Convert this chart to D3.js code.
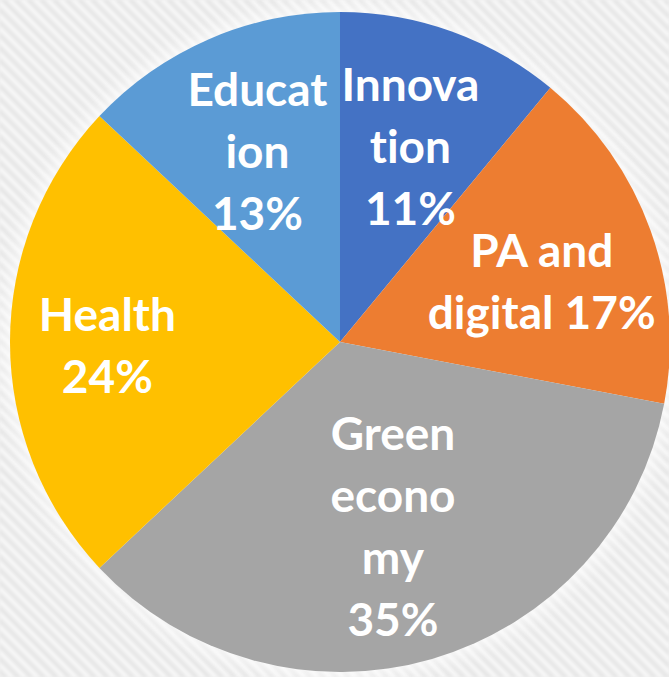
<!DOCTYPE html>
<html>
<head>
<meta charset="utf-8">
<script src="https://cdn.jsdelivr.net/npm/d3@7"></script>
<style>
  html, body { margin: 0; padding: 0; background: #efefef; }
  svg { display: block; }
</style>
</head>
<body>
<div id="chart"></div>
<script>
// data
var categories = ["Innovation", "PA and digital", "Green economy", "Health", "Education"];
var shares = [11, 17, 35, 24, 13];
// how the label text wraps inside each slice ({p} = the percentage)
var labelLines = [
  ["Innova", "tion", "{p}"],
  ["PA and", "digital {p}"],
  ["Green", "econo", "my", "{p}"],
  ["Health", "{p}"],
  ["Educat", "ion", "{p}"]
];
var colors = ["#4472C4", "#ED7D31", "#A5A5A5", "#FFC000", "#5B9BD5"];

function chart() {
  var w = 669;
  var h = 677;
  var cx = 340, cy = 342, r = 330;

  // label distance from centre (fraction of radius) and small nudges
  var labelRadius = [0.63, 0.64, 0.575, 0.705, 0.63];
  var nudge = [[0, 1], [3, 12], [0, 3], [0, 4], [0, 1]];
  var lineH = 62;

  var svg = d3.select("#chart")
              .append("svg")
              .attr("width", w)
              .attr("height", h);

  var defs = svg.append("defs");

  // diagonal striped background
  var pat = defs.append("pattern")
                .attr("id", "stripes")
                .attr("patternUnits", "userSpaceOnUse")
                .attr("width", 9)
                .attr("height", 9)
                .attr("patternTransform", "rotate(-45)");
  pat.append("rect").attr("width", 9).attr("height", 9).attr("fill", "#f7f7f7");
  pat.append("rect").attr("width", 4.5).attr("height", 9).attr("fill", "#e6e6e6");

  var soft = defs.append("filter").attr("id", "soft")
                 .attr("x", "-5%").attr("y", "-5%").attr("width", "110%").attr("height", "110%");
  soft.append("feGaussianBlur").attr("stdDeviation", 1.5);

  var glow = defs.append("filter").attr("id", "glow")
                 .attr("x", "-20%").attr("y", "-20%").attr("width", "140%").attr("height", "140%");
  glow.append("feGaussianBlur").attr("stdDeviation", 9);

  svg.append("rect")
     .attr("width", w)
     .attr("height", h)
     .attr("fill", "url(#stripes)")
     .attr("filter", "url(#soft)");

  // white halo round the pie
  svg.append("circle")
     .attr("cx", cx)
     .attr("cy", cy)
     .attr("r", r + 4)
     .attr("fill", "#ffffff")
     .attr("opacity", 0.75)
     .attr("filter", "url(#glow)");

  var pie = d3.pie()
              .sort(null)
              .value(function(d) { return d; });

  var arc = d3.arc()
              .innerRadius(0)
              .outerRadius(r);

  var arcs = pie(shares);

  var g = svg.append("g")
             .attr("transform", "translate(" + cx + "," + cy + ")");

  g.selectAll("path")
   .data(arcs)
   .enter()
   .append("path")
   .attr("d", arc)
   .attr("fill", function(d, i) { return colors[i]; });

  // labels
  var labels = g.selectAll("text.lbl")
                .data(arcs)
                .enter()
                .append("text")
                .attr("class", "lbl")
                .attr("text-anchor", "middle")
                .attr("fill", "#ffffff")
                .style("font-family", "Lato, 'Open Sans', sans-serif")
                .style("font-weight", "bold")
                .style("font-size", "46px")
                .style("font-variant-ligatures", "none")
                .style("font-feature-settings", "'liga' 0, 'clig' 0");

  labels.each(function(d, i) {
    var lr = r * labelRadius[i];
    var c = d3.arc().innerRadius(lr).outerRadius(lr).centroid(d);
    var x = c[0] + nudge[i][0];
    var y = c[1] + nudge[i][1];
    var lines = labelLines[i].map(function(s) { return s.replace("{p}", shares[i] + "%"); });
    var n = lines.length;
    d3.select(this).selectAll("tspan")
      .data(lines)
      .enter()
      .append("tspan")
      .attr("x", x)
      .attr("y", function(s, k) { return y + 16 + (k - (n - 1) / 2) * lineH; })
      .text(function(s) { return s; });
  });
}

window.onload = function() {
  chart();
};
</script>
</body>
</html>
